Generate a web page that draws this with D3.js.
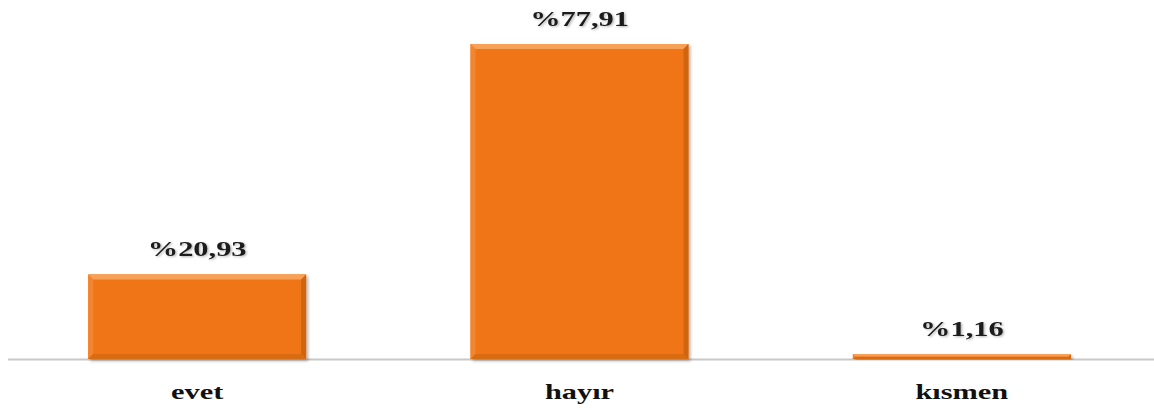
<!DOCTYPE html>
<html>
<head>
<meta charset="utf-8">
<script src="https://cdn.jsdelivr.net/npm/d3@7"></script>
<style>
body { margin: 0; background: #fff; }
svg text { font-family: "Liberation Serif", "Times New Roman", serif; font-weight: bold; }
</style>
</head>
<body>
<svg id="chart" width="1154" height="410"></svg>
<script>
// data
var categories = ['evet', 'hayır', 'kısmen'];
var values = [20.93, 77.91, 1.16];
var valueLabels = ['%20,93', '%77,91', '%1,16'];

var svg = d3.select('#chart');
var baseY = 359;
var stretch = 1.38; // the original text looks horizontally stretched

var x = d3.scaleBand().domain(categories).range([6, 1153]).paddingInner(0.43).paddingOuter(0.215);
var y = d3.scaleLinear().domain([0, 77.91]).range([baseY, 44]);

var defs = svg.append('defs');
var sh = defs.append('filter').attr('id', 'shadow').attr('x', '-10%').attr('y', '-10%').attr('width', '130%').attr('height', '130%');
sh.append('feDropShadow').attr('dx', 2).attr('dy', 2).attr('stdDeviation', 1.5).attr('flood-color', '#000').attr('flood-opacity', 0.3);
var ts = defs.append('filter').attr('id', 'tshadow');
ts.append('feDropShadow').attr('dx', 1).attr('dy', 1).attr('stdDeviation', 0.8).attr('flood-color', '#000').attr('flood-opacity', 0.3);

// axis line
svg.append('line')
    .attr('x1', 8).attr('x2', 1154)
    .attr('y1', baseY + 0.5).attr('y2', baseY + 0.5)
    .attr('stroke', '#c8c8c8').attr('stroke-width', 2);

var bars = svg.selectAll('.bar').data(values).enter().append('g').attr('class', 'bar');

bars.append('rect')
    .attr('x', function (d, i) { return x(categories[i]); })
    .attr('y', function (d) { return y(d); })
    .attr('width', x.bandwidth())
    .attr('height', function (d) { return baseY - y(d); })
    .attr('fill', '#f07512')
    .attr('filter', 'url(#shadow)');

// bevel edges
bars.each(function (d, i) {
    var g = d3.select(this);
    var x0 = x(categories[i]), x1 = x0 + x.bandwidth();
    var y0 = y(d), y1 = baseY;
    var b = Math.min(5, (y1 - y0) / 2);
    g.append('polygon')
        .attr('points', [[x0, y0], [x1, y0], [x1 - b, y0 + b], [x0 + b, y0 + b]].join(' '))
        .attr('fill', '#f7a158');
    g.append('polygon')
        .attr('points', [[x0, y0], [x0 + b, y0 + b], [x0 + b, y1 - b], [x0, y1]].join(' '))
        .attr('fill', '#f28630');
    g.append('polygon')
        .attr('points', [[x1, y0], [x1, y1], [x1 - b, y1 - b], [x1 - b, y0 + b]].join(' '))
        .attr('fill', '#d0650f');
    g.append('polygon')
        .attr('points', [[x0, y1], [x1, y1], [x1 - b, y1 - b], [x0 + b, y1 - b]].join(' '))
        .attr('fill', '#d96b10');
});

// value labels
svg.selectAll('.val').data(values).enter().append('text')
    .attr('class', 'val')
    .attr('transform', function (d, i) {
        return 'translate(' + (x(categories[i]) + x.bandwidth() / 2) + ',' + (y(d) - 18) + ') scale(' + stretch + ',1)';
    })
    .attr('text-anchor', 'middle')
    .attr('font-size', 22)
    .attr('fill', '#1a1a1a')
    .attr('filter', 'url(#tshadow)')
    .text(function (d, i) { return valueLabels[i]; });

// category labels
svg.selectAll('.cat').data(categories).enter().append('text')
    .attr('class', 'cat')
    .attr('transform', function (d) {
        return 'translate(' + (x(d) + x.bandwidth() / 2) + ',399) scale(' + stretch + ',1)';
    })
    .attr('text-anchor', 'middle')
    .attr('font-size', 22)
    .attr('fill', '#111')
    .text(function (d) { return d; });
</script>
</body>
</html>
